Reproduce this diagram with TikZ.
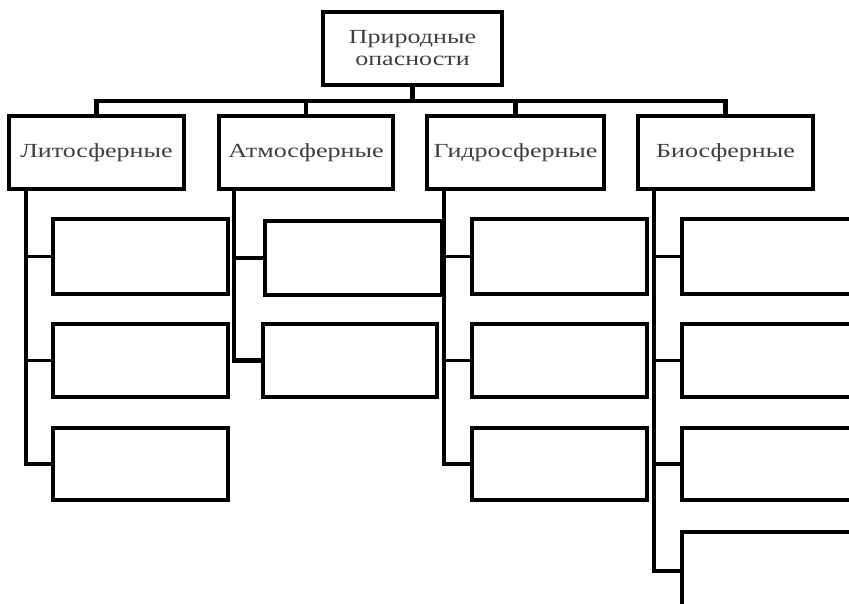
\documentclass[tikz,border=0pt]{standalone}
\usepackage{fontspec}
\setmainfont[FakeStretch=1.3]{Liberation Serif}
\begin{document}
\begin{tikzpicture}[x=1pt,y=1pt,
  box/.style={draw=black,line width=3.6pt,fill=white,inner sep=0pt,
    text=black!75,font=\fontsize{20}{22}\selectfont,align=center},
  conn/.style={draw=black,line width=4.2pt,line cap=rect},
  stub/.style={draw=black,line width=3.4pt}]
\useasboundingbox (0,0) rectangle (849,-604);
\clip (0,0) rectangle (849,-604);
% top
\node[box,minimum width=179pt,minimum height=73pt] (top) at (412.5,-48.5) {Природные\\опасности};
% level 2
\foreach \n/\x/\w/\t in {b1/96.5/175/Литосферные, b2/306/174/Атмосферные, b3/515.5/177/Гидросферные, b4/725.5/175/Биосферные}
  \node[box,minimum width=\w pt,minimum height=73pt] (\n) at (\x,-152.5) {\t};
\coordinate (bar) at (412.5,-101);
\draw[conn] (top.south) -- (bar);
\draw[conn] (b1.north) |- (bar) -| (b4.north);
\draw[conn] (b2.north) |- (bar);
\draw[conn] (b3.north) |- (bar);
% level 3 boxes
\foreach \n/\x/\y/\w/\h in {
  c11/140.5/-256.5/175/75, c12/140.5/-360.5/175/73, c13/140.5/-464/175/72,
  c21/353.5/-258/177/74, c22/350/-360.5/174/73,
  c31/559.5/-256.5/175/75, c32/559.5/-360.5/175/73, c33/559.5/-464/175/72,
  c41/769.5/-256.5/175/75, c42/769.5/-360.5/175/73, c43/769.5/-464/175/72, c44/769.5/-571/175/78}
  \node[box,minimum width=\w pt,minimum height=\h pt] (\n) at (\x,\y) {};
% trunks
\coordinate (t1) at ([xshift=19pt]b1.south west);
\coordinate (t2) at ([xshift=17pt]b2.south west);
\coordinate (t3) at ([xshift=19pt]b3.south west);
\coordinate (t4) at ([xshift=18pt]b4.south west);
\draw[conn,line cap=butt] (t1) |- (c13.west);
\draw[stub] (c11.west) -- (c11.west -| t1);
\draw[stub] (c12.west) -- (c12.west -| t1);
\draw[conn,line cap=butt] (t2) |- (c22.west);
\draw[stub] (c21.west) -- (c21.west -| t2);
\draw[conn,line cap=butt] (t3) |- (c33.west);
\draw[stub] (c31.west) -- (c31.west -| t3);
\draw[stub] (c32.west) -- (c32.west -| t3);
\draw[conn,line cap=butt] (t4) |- (c44.west);
\draw[stub] (c41.west) -- (c41.west -| t4);
\draw[stub] (c42.west) -- (c42.west -| t4);
\draw[stub] (c43.west) -- (c43.west -| t4);
\end{tikzpicture}
\end{document}
